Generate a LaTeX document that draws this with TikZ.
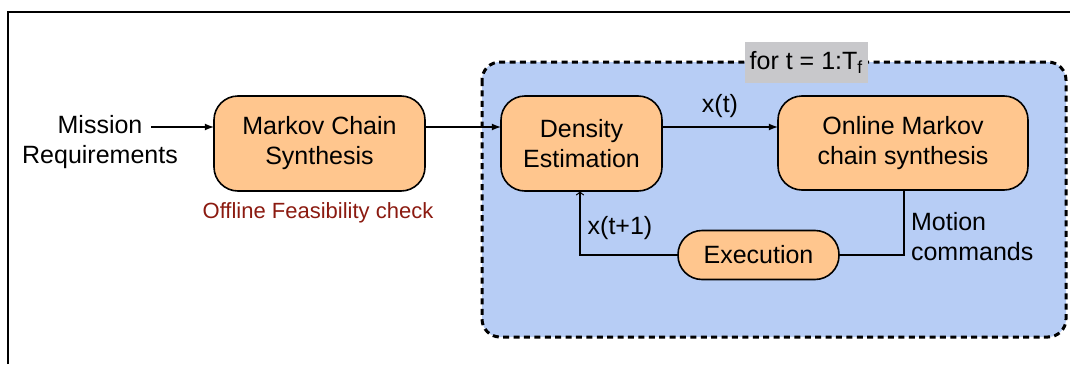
\documentclass[tikz,border=0pt]{standalone}
\usepackage{fontspec}
\setmainfont{Liberation Sans}
\definecolor{boxorange}{RGB}{255,198,142}
\definecolor{loopblue}{RGB}{183,205,245}
\definecolor{checkred}{RGB}{139,26,16}
\definecolor{labelgray}{RGB}{200,200,203}

\begin{document}
\begin{tikzpicture}[x=0.5pt,y=-0.5pt,font=\fontsize{12.5}{15}\selectfont]
  \tikzstyle{block} = [draw, line width=0.8pt, fill=boxorange, rounded corners=12pt, align=center, inner sep=0pt, outer sep=0pt]
  \tikzstyle{conn} = [line width=0.6pt]
  \useasboundingbox (0,0) rectangle (1070,364);
  %outer frame, right and bottom sides fall outside
  \draw[line width=0.8pt] (8,364) -- (8,12) -- (1070,12);
  %\draw (480,62) rectangle (1066,337);
  \draw[fill=loopblue, line width=1.5pt, dash pattern=on 3pt off 2.2pt, rounded corners=9pt] (482,62) rectangle (1066,337);
  \draw (806.5,62.5) node[fill=labelgray, minimum width=61.5pt, minimum height=20.5pt, inner sep=0pt] (loop) {for t = 1:T\textsubscript{f}};

  \draw (100,142) node[align=center] (mis) {Mission\\Requirements};
  \coordinate (misend) at (151,127);
  \draw (319.5,143.5) node[block, minimum width=105.5pt, minimum height=47.5pt] (mcs) {Markov Chain\\Synthesis};
  \draw [conn,-latex] (misend) -- (mcs.west |- misend);
  \draw (318,213) node[text=checkred, font=\fontsize{11}{13}\selectfont] (chk) {Offline Feasibility check};

  \draw (581.5,143.5) node[block, minimum width=80.5pt, minimum height=47.5pt] (dens) {Density\\Estimation};
  \draw [conn,-latex] (mcs.east |- misend) -- (dens.west |- misend);
  \draw (903,143) node[block, minimum width=125pt, minimum height=47pt] (onl) {Online Markov\\chain synthesis};
  \draw [conn,-latex] (dens.east |- misend) -- node[above, yshift=1pt] (xt) {x(t)} (onl.west |- misend);

  \draw (758.5,255) node[block, minimum width=80.5pt, minimum height=24.5pt] (exe) {Execution};
  \coordinate (mot) at (904,190);
  \draw [conn] (mot) |- (exe.east);
  \draw (904,237) node[anchor=west, align=left] (cmd) {Motion\\commands};
  \coordinate (back) at (580,191);
  \draw [conn,->] (exe.west) -| (back);
  \draw (620,228) node (xt1) {x(t+1)};
\end{tikzpicture}
\end{document}
